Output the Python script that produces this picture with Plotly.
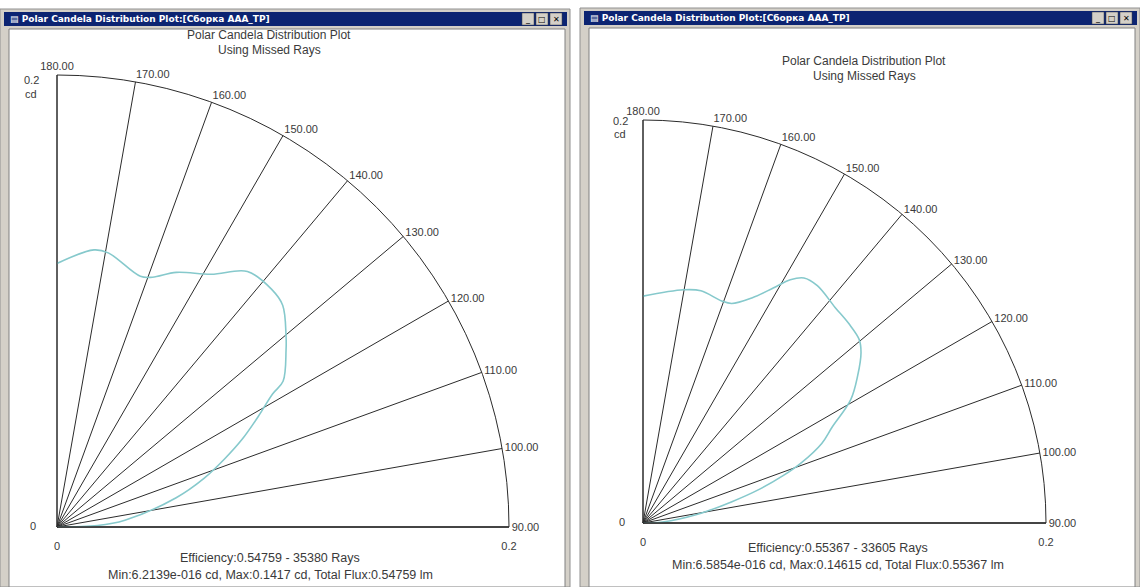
import plotly.graph_objects as go

W, H = 1140, 587

# Candela distribution (angle in degrees, intensity in cd) for the two assemblies
left_theta = [90, 92, 95.7, 103.8, 108.3, 112.1, 115.3, 118.8, 121.7, 122.8, 127.7, 129.9,
              134.5, 137.9, 143.3, 148.6, 154.9, 159.1, 161.6, 169.4, 172.4, 180.0]
left_cd = [0.0, 0.018, 0.0302, 0.0543, 0.0685, 0.0800, 0.0905, 0.1017, 0.1122, 0.1190, 0.1281,
           0.1321, 0.1400, 0.1417, 0.1410, 0.1310, 0.1244, 0.1183, 0.1169, 0.1234, 0.1237, 0.1166]

right_theta = [90, 93, 99.1, 103.5, 106.2, 108.7, 110.8, 114.0, 116.9, 120.7, 124.5, 128.0,
               130.3, 134.1, 138.3, 143.7, 146.7, 148.8, 151.0, 154.1, 158.0, 160.5, 166.0,
               170.1, 180.0]
right_cd = [0.0, 0.0097, 0.0275, 0.0454, 0.0603, 0.0736, 0.0840, 0.0971, 0.1053, 0.1199, 0.1293,
            0.1373, 0.1407, 0.1422, 0.1433, 0.14615, 0.1455, 0.1411, 0.1333, 0.1243, 0.1175,
            0.1169, 0.1188, 0.1175, 0.1126]

angle_ticks = [90, 100, 110, 120, 130, 140, 150, 160, 170, 180]
angle_labels = [f"{a:.2f}" for a in angle_ticks]
radial_ticks = [0, 0.2]
radial_labels = ["0", "0.2"]

window_title = "Polar Candela Distribution Plot:[Сборка AAA_TP]"
plot_title = ["Polar Candela Distribution Plot", "Using Missed Rays"]
left_stats = ["Efficiency:0.54759 - 35380 Rays",
              "Min:6.2139e-016 cd, Max:0.1417 cd, Total Flux:0.54759 lm"]
right_stats = ["Efficiency:0.55367 - 33605 Rays",
               "Min:6.5854e-016 cd, Max:0.14615 cd, Total Flux:0.55367 lm"]

CURVE = "#86c9cc"
INK = "#2b2b2b"
TEXT = "#3a3a3a"
FONT = "Liberation Sans"


def px(x):
    return x / W


def py(y):
    return 1 - y / H


fig = go.Figure()
fig.add_trace(go.Scatterpolar(theta=left_theta, r=left_cd, mode="lines",
                              line=dict(color=CURVE, width=1.6, shape="spline"),
                              subplot="polar", showlegend=False))
fig.add_trace(go.Scatterpolar(theta=right_theta, r=right_cd, mode="lines",
                              line=dict(color=CURVE, width=1.6, shape="spline"),
                              subplot="polar2", showlegend=False))


def polar_layout(cx, cy, radius):
    return dict(
        domain=dict(x=[px(cx), px(cx + radius)], y=[py(cy), py(cy - radius)]),
        sector=[0, 90],
        bgcolor="white",
        angularaxis=dict(rotation=-90, direction="counterclockwise",
                         tickmode="array", tickvals=angle_ticks, ticktext=angle_labels,
                         showgrid=True, gridcolor=INK, gridwidth=1,
                         showline=True, linecolor=INK, linewidth=1,
                         ticks="", tickfont=dict(family=FONT, size=11, color=TEXT)),
        radialaxis=dict(range=[0, 0.2], tickmode="array", tickvals=radial_ticks,
                        ticktext=radial_labels, showgrid=False, showline=True,
                        linecolor=INK, linewidth=1, angle=0,
                        ticks="outside", ticklen=9, tickcolor="rgba(0,0,0,0)",
                        tickfont=dict(family=FONT, size=11, color=TEXT)),
    )


shapes = []
annotations = []


def label(x, y, text, size=11, color=TEXT, anchor="center", family=FONT):
    annotations.append(dict(x=px(x), y=py(y), xref="paper", yref="paper", text=text,
                            showarrow=False, xanchor=anchor, yanchor="middle",
                            font=dict(family=family, size=size, color=color)))


def window(x0, x1, cap_top, title_x, title_y, stats_x, stats_y, stats, side_labels):
    # frame, client area and caption bar
    shapes.append(dict(type="rect", xref="paper", yref="paper", x0=px(x0), x1=px(x1),
                       y0=0, y1=py(cap_top - 3), fillcolor="#d4d0c8",
                       line=dict(color="#909090", width=1), layer="below"))
    shapes.append(dict(type="rect", xref="paper", yref="paper", x0=px(x0 + 9), x1=px(x1 - 5),
                       y0=0, y1=py(cap_top + 17), fillcolor="white",
                       line=dict(color="#808080", width=1), layer="below"))
    shapes.append(dict(type="rect", xref="paper", yref="paper", x0=px(x0 + 4), x1=px(x1 - 3),
                       y0=py(cap_top + 14), y1=py(cap_top), fillcolor="#0c2472",
                       line=dict(width=0), layer="above"))
    cy = cap_top + 7
    for i, sym in enumerate(["_", "□", "✕"]):
        bx = x1 - 48 + i * 14
        shapes.append(dict(type="rect", xref="paper", yref="paper", x0=px(bx), x1=px(bx + 12),
                           y0=py(cy + 6), y1=py(cy - 6), fillcolor="#d4d0c8",
                           line=dict(color="#404040", width=0.5), layer="above"))
        label(bx + 6, cy, sym, size=8, color="black", family="DejaVu Sans")
    label(x0 + 8, cy, "<b>▤ " + window_title + "</b>", size=9, color="white",
          anchor="left", family="DejaVu Sans")
    for k, t in enumerate(plot_title):
        label(title_x, title_y + 15 * k, t, size=12)
    for k, t in enumerate(stats):
        label(stats_x, stats_y + 17 * k, t, size=12.5)
    for (lx, ly, t) in side_labels:
        label(lx, ly, t)


window(0, 570, 12, 269, 35, 270, 558, left_stats,
       [(33, 526, "0"), (31, 80, "0.2"), (31, 94, "cd")])
window(580, 1140, 11, 864, 61, 838, 548, right_stats,
       [(622, 522, "0"), (620, 121, "0.2"), (620, 134, "cd")])

fig.update_layout(
    width=W, height=H,
    margin=dict(l=0, r=0, t=0, b=0),
    paper_bgcolor="white",
    polar=polar_layout(57, 527, 452),
    polar2=polar_layout(643, 523, 403),
    shapes=shapes,
    annotations=annotations,
    showlegend=False,
)

fig.write_html("out.html")
